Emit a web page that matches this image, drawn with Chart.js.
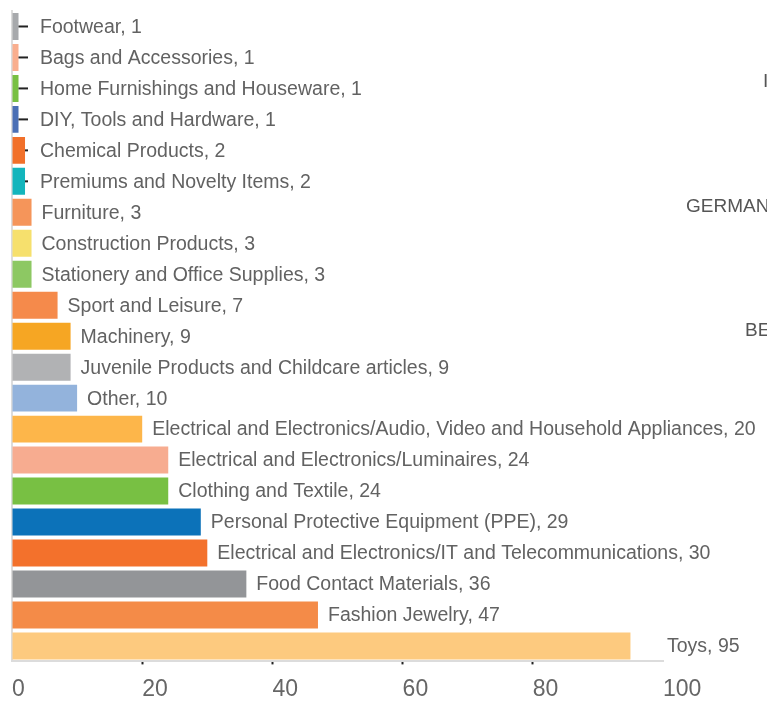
<!DOCTYPE html>
<html>
<head>
<meta charset="utf-8">
<script src="https://cdn.jsdelivr.net/npm/chart.js@4.4.1/dist/chart.umd.min.js"></script>
<style>
  body { margin: 0; background: #fff; overflow: hidden; }
  #wrap { position: relative; width: 767px; height: 702px; overflow: hidden; }
  #chartBox { position: absolute; left: -6px; top: 0; width: 773px; height: 702px; }
  .side { position: absolute; font-family: "Liberation Sans", Arial, sans-serif; font-size: 19px; color: #555; white-space: nowrap; }
</style>
</head>
<body>
<div id="wrap">
  <div id="chartBox"><canvas id="productChart"></canvas></div>
  <span class="side" style="left:763px; top:70px;">I</span>
  <span class="side" style="left:686px; top:195px;">GERMAN</span>
  <span class="side" style="left:745px; top:319px;">BE</span>
</div>
<script>
// Date
const categories = [
  "Footwear", "Bags and Accessories", "Home Furnishings and Houseware",
  "DIY, Tools and Hardware", "Chemical Products", "Premiums and Novelty Items",
  "Furniture", "Construction Products", "Stationery and Office Supplies",
  "Sport and Leisure", "Machinery", "Juvenile Products and Childcare articles",
  "Other", "Electrical and Electronics/Audio, Video and Household Appliances",
  "Electrical and Electronics/Luminaires", "Clothing and Textile",
  "Personal Protective Equipment (PPE)",
  "Electrical and Electronics/IT and Telecommunications",
  "Food Contact Materials", "Fashion Jewelry", "Toys"
];
const counts = [1, 1, 1, 1, 2, 2, 3, 3, 3, 7, 9, 9, 10, 20, 24, 24, 29, 30, 36, 47, 95];
const barColors = [
  "#a7a9ac", "#f9ae8e", "#78c043", "#4a6fb5", "#f1702a", "#13b5bc",
  "#f5955a", "#f6e06d", "#8dc863", "#f58a4b", "#f6a623", "#b1b2b4",
  "#93b3dc", "#fdb64a", "#f7ac90", "#78c043", "#0c72b9", "#f3712c",
  "#939598", "#f48b48", "#fdca7f"
];
const xMin = 0, xMax = 100, xStep = 20;

// Etichete "Nume, valoare" la dreapta barelor
const barLabels = {
  id: "barLabels",
  afterDatasetsDraw(chart) {
    const c = chart.ctx;
    const area = chart.chartArea;
    const bars = chart.getDatasetMeta(0).data;
    c.save();
    c.font = "19.5px 'Liberation Sans', Arial, sans-serif";
    c.fillStyle = "#626262";
    c.textBaseline = "middle";
    bars.forEach((bar, i) => {
      // liniuță mică pentru barele foarte scurte
      if (bar.x < area.left + 16) {
        c.strokeStyle = "#222";
        c.lineWidth = 2;
        c.beginPath();
        c.moveTo(bar.x, bar.y);
        c.lineTo(area.left + 16, bar.y);
        c.stroke();
      }
      let x = Math.max(bar.x + 10, area.left + 28);
      if (counts[i] > xMax * 0.9) x = area.right + 4;
      c.fillText(categories[i] + ", " + counts[i], x, bar.y + 1);
    });
    c.restore();
  }
};

new Chart(document.getElementById("productChart"), {
  type: "bar",
  data: {
    labels: categories,
    datasets: [{
      data: counts,
      backgroundColor: barColors,
      borderWidth: 0,
      barPercentage: 0.87,
      categoryPercentage: 1
    }]
  },
  options: {
    indexAxis: "y",
    responsive: true,
    maintainAspectRatio: false,
    animation: false,
    layout: { padding: { top: 11, left: 10, right: 104, bottom: -12 } },
    plugins: {
      legend: { display: false },
      tooltip: { enabled: false }
    },
    scales: {
      x: {
        min: xMin,
        max: xMax,
        ticks: {
          stepSize: xStep,
          color: "#666",
          font: { family: "'Liberation Sans', Arial, sans-serif", size: 23 },
          padding: 11,
          align: "start",
          maxRotation: 0
        },
        grid: {
          drawOnChartArea: false,
          tickLength: 3,
          tickWidth: 2,
          color: ctx => (ctx.tick && ctx.tick.value > xMin && ctx.tick.value < xMax) ? "#222" : "rgba(0,0,0,0)"
        },
        border: { color: "#dcdcdc", width: 2 }
      },
      y: {
        ticks: { display: false },
        grid: { display: false },
        border: { color: "#dcdcdc", width: 2 }
      }
    }
  },
  plugins: [barLabels]
});
</script>
</body>
</html>
